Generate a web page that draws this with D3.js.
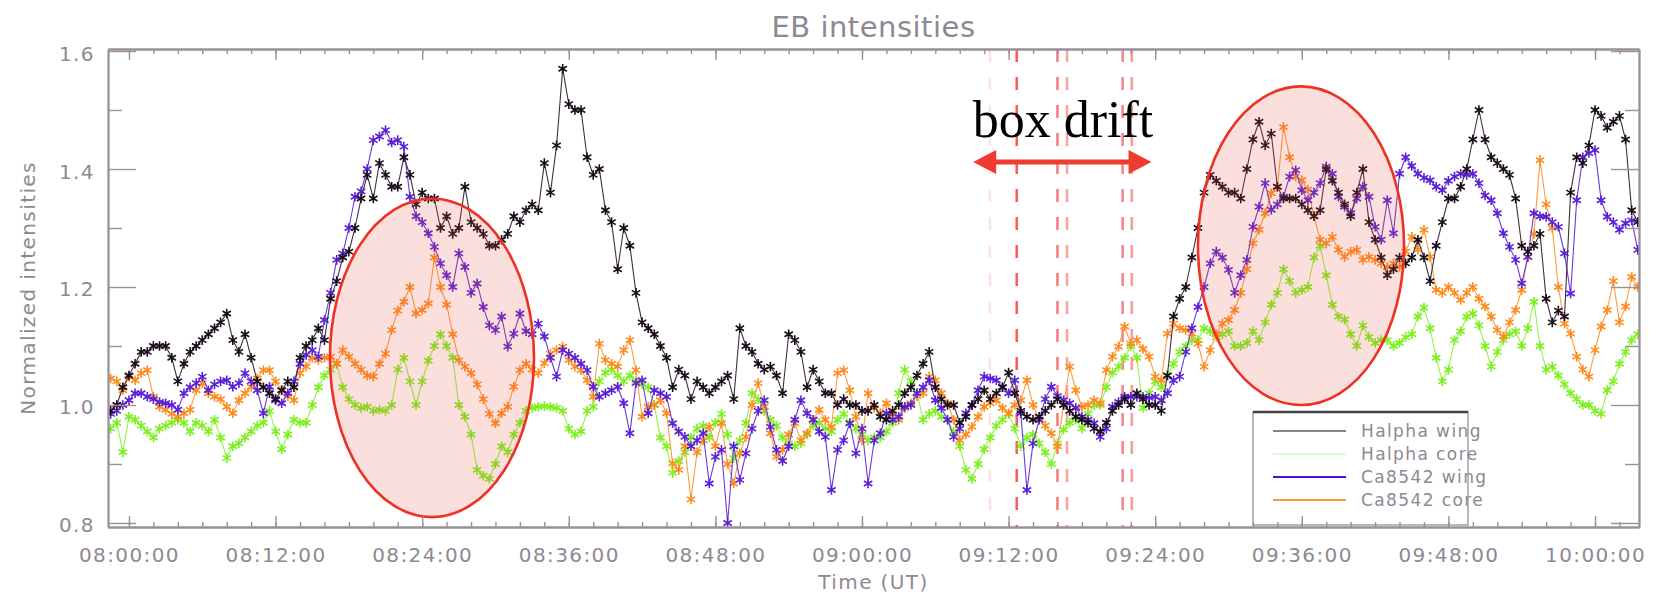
<!DOCTYPE html>
<meta charset="utf-8">

<style>
body { margin: 0; background: #fff; }
svg  { display: block; }
.lbl, .tick text { font-family: "DejaVu Sans", sans-serif; fill: #8e8894; }
</style>

<head>
<script src="https://cdn.jsdelivr.net/npm/d3@7"></script>
</head>

<body>
<div id="chart"></div>

<script>
// samples every 30 s, first one at 07:58:30 UT
var startTime = "07:58:30";
var stepSec = 30;

var haWing = [
 0.99,1.00,1.03,1.05,1.07,1.09,1.09,1.10,1.10,1.10,
 1.08,1.04,1.07,1.09,1.10,1.11,1.12,1.13,1.14,1.155,
 1.11,1.09,1.12,1.08,1.04,1.03,1.02,1.01,1.025,1.04,
 1.03,1.08,1.10,1.11,1.13,1.11,1.18,1.21,1.25,1.26,
 1.30,1.35,1.39,1.35,1.41,1.39,1.37,1.37,1.42,1.39,
 1.34,1.36,1.35,1.35,1.30,1.32,1.29,1.30,1.37,1.31,
 1.30,1.29,1.27,1.27,1.28,1.29,1.32,1.31,1.33,1.34,
 1.33,1.41,1.36,1.44,1.57,1.51,1.50,1.50,1.42,1.39,
 1.40,1.33,1.31,1.23,1.30,1.27,1.19,1.14,1.13,1.12,
 1.10,1.08,1.03,1.06,1.05,1.01,1.04,1.03,1.02,1.03,
 1.04,1.05,1.01,1.13,1.10,1.09,1.07,1.06,1.065,1.05,
 1.02,1.12,1.11,1.09,1.03,1.06,1.04,1.02,1.02,1.00,
 1.01,1.00,1.00,0.99,0.99,1.00,0.98,0.975,0.99,1.00,
 1.02,1.03,1.05,1.07,1.09,1.03,1.01,1.00,1.00,0.97,
 0.98,1.00,1.01,1.025,1.01,1.02,1.03,1.055,1.02,0.99,
 0.98,0.975,0.98,0.99,1.00,1.01,1.00,0.99,0.98,0.975,
 0.97,0.96,0.955,0.97,0.99,1.00,1.01,1.00,1.02,1.01,
 1.00,1.00,0.99,1.05,1.15,1.18,1.20,1.25,1.30,1.36,
 1.39,1.38,1.37,1.36,1.36,1.35,1.40,1.45,1.48,1.44,
 1.46,1.37,1.35,1.35,1.35,1.34,1.33,1.32,1.33,1.40,
 1.38,1.36,1.34,1.32,1.36,1.40,1.31,1.28,1.25,1.22,
 1.23,1.25,1.24,1.25,1.28,1.25,1.21,1.27,1.31,1.35,
 1.35,1.37,1.40,1.45,1.50,1.45,1.42,1.41,1.40,1.39,
 1.35,1.27,1.26,1.27,1.29,1.18,1.14,1.16,1.15,1.36,
 1.42,1.41,1.44,1.50,1.49,1.47,1.48,1.49,1.45,1.33,
 1.31];

var haCore = [
 0.96,0.97,0.92,0.98,0.975,0.965,0.955,0.945,0.96,0.965,
 0.97,0.975,0.97,0.955,0.97,0.965,0.955,0.975,0.945,0.91,
 0.93,0.935,0.945,0.955,0.965,0.97,0.99,0.955,0.925,0.95,
 0.975,0.97,0.97,1.00,1.03,1.05,1.06,1.07,1.03,1.01,
 1.00,0.995,0.997,0.99,0.992,0.99,1.00,1.06,1.08,1.04,
 1.00,1.04,1.075,1.10,1.12,1.10,1.08,1.00,0.98,0.95,
 0.89,0.88,0.875,0.90,0.93,0.92,0.95,0.97,0.99,0.995,
 0.997,0.998,0.997,0.995,0.99,0.96,0.95,0.955,0.99,0.997,
 1.04,1.055,1.06,1.05,1.04,1.05,1.04,1.035,1.03,1.00,
 0.945,0.93,0.885,0.905,0.92,0.945,0.96,0.965,0.945,0.97,
 0.985,0.95,0.91,0.94,0.97,1.02,1.01,0.99,0.975,0.965,
 0.945,0.935,0.93,0.935,0.95,0.965,0.97,0.96,0.955,0.975,
 0.985,0.97,0.96,0.95,0.94,0.945,0.945,0.955,0.97,1.02,
 1.06,1.04,1.02,0.975,0.985,0.99,0.98,0.975,0.955,0.93,
 0.89,0.875,0.90,0.925,0.945,0.965,0.975,0.985,0.96,0.93,
 0.945,0.95,0.935,0.92,0.90,0.935,0.958,0.97,0.975,0.96,
 0.985,1.00,1.00,1.03,1.055,1.065,1.08,1.10,1.08,0.995,
 1.02,1.04,1.03,1.05,1.07,1.09,1.10,1.11,1.11,1.13,
 1.125,1.115,1.12,1.125,1.10,1.10,1.105,1.125,1.11,1.14,
 1.17,1.19,1.23,1.21,1.19,1.195,1.20,1.25,1.27,1.22,
 1.17,1.15,1.145,1.12,1.10,1.135,1.115,1.105,1.11,1.11,
 1.10,1.105,1.115,1.12,1.15,1.165,1.13,1.08,1.04,1.06,
 1.11,1.125,1.15,1.155,1.135,1.10,1.065,1.09,1.11,1.12,
 1.125,1.10,1.13,1.175,1.10,1.06,1.065,1.05,1.035,1.02,
 1.01,1.00,1.00,0.99,0.985,1.025,1.04,1.07,1.09,1.11,
 1.12];

var caWing = [
 0.985,0.99,1.00,1.008,1.02,1.02,1.014,1.01,1.005,1.003,
 1.00,0.992,1.02,1.03,1.037,1.048,1.025,1.035,1.04,1.042,
 1.031,1.037,1.054,1.04,1.025,0.986,1.031,1.008,1.003,1.02,
 1.04,1.07,1.085,1.093,1.082,1.144,1.19,1.246,1.257,1.30,
 1.353,1.362,1.40,1.449,1.455,1.466,1.445,1.449,1.438,1.353,
 1.32,1.31,1.291,1.268,1.24,1.22,1.20,1.257,1.234,1.19,
 1.206,1.166,1.135,1.127,1.15,1.099,1.121,1.155,1.125,1.12,
 1.138,1.116,1.08,1.048,1.093,1.087,1.08,1.07,1.059,1.031,
 1.014,1.02,1.025,1.031,1.003,0.952,1.037,1.042,0.986,1.025,
 1.02,1.014,0.969,0.955,0.946,0.93,0.94,0.952,0.867,0.912,
 0.924,0.80,0.93,0.873,0.918,0.96,0.99,1.008,0.963,0.924,
 0.905,0.93,0.975,1.008,0.986,0.975,0.955,0.946,0.856,0.924,
 0.94,0.969,0.918,0.96,0.867,0.94,0.952,0.986,0.975,0.98,
 0.997,1.00,1.02,1.03,1.042,1.008,0.995,0.975,0.946,0.96,
 0.986,1.00,1.025,1.048,1.045,1.042,1.03,1.02,1.042,0.986,
 0.856,0.935,0.975,1.01,1.031,1.015,1.008,1.003,0.995,0.98,
 0.975,0.969,0.946,0.96,0.997,1.005,1.014,1.014,1.014,1.014,
 1.012,1.014,1.008,1.02,1.042,1.048,1.09,1.13,1.166,1.20,
 1.24,1.26,1.25,1.229,1.19,1.22,1.246,1.302,1.336,1.376,
 1.331,1.34,1.353,1.387,1.398,1.364,1.347,1.36,1.376,1.404,
 1.392,1.353,1.336,1.325,1.35,1.37,1.353,1.302,1.28,1.347,
 1.291,1.392,1.42,1.405,1.392,1.385,1.381,1.37,1.364,1.38,
 1.387,1.392,1.39,1.392,1.376,1.355,1.347,1.325,1.291,1.268,
 1.246,1.206,1.251,1.325,1.32,1.319,1.31,1.302,1.257,1.189,
 1.347,1.42,1.427,1.432,1.347,1.319,1.31,1.297,1.308,1.313,
 1.263];

var caCore = [
 1.045,1.04,1.025,1.048,1.042,1.054,1.059,1.014,0.997,0.992,
 0.985,0.98,0.986,0.992,1.025,1.037,1.02,1.014,1.01,0.997,
 0.986,1.008,1.02,1.031,1.045,1.059,1.059,1.04,1.025,1.015,
 1.008,1.054,1.065,1.08,1.076,1.08,1.082,1.07,1.093,1.082,
 1.07,1.06,1.05,1.048,1.07,1.087,1.127,1.16,1.175,1.20,
 1.155,1.161,1.172,1.25,1.20,1.17,1.12,1.076,1.065,1.054,
 1.035,1.01,0.985,0.969,0.986,0.997,1.031,1.059,1.07,1.06,
 1.054,1.071,1.087,1.093,1.099,1.076,1.065,1.059,1.042,1.014,
 1.104,1.076,1.07,1.065,1.093,1.11,1.059,0.98,0.997,1.00,
 1.008,0.986,0.901,0.89,0.93,0.84,0.92,0.94,0.963,0.93,
 0.969,0.90,0.867,0.918,0.946,1.00,1.037,0.997,0.952,0.912,
 0.924,0.95,0.969,0.94,0.952,0.975,0.992,0.975,0.963,1.054,
 1.059,1.025,0.98,0.94,1.02,0.995,0.986,1.003,0.985,0.975,
 0.995,1.003,1.015,1.02,1.048,1.042,1.02,1.003,0.975,0.94,
 0.95,0.963,0.98,0.997,1.003,1.008,0.995,0.986,1.00,1.008,
 1.042,1.00,0.975,0.965,0.952,0.93,1.00,1.065,1.025,0.997,
 1.00,1.008,1.003,1.059,1.082,1.099,1.133,1.104,1.11,1.095,
 1.082,1.048,1.042,1.121,1.138,1.13,1.127,1.121,1.104,1.065,
 1.093,1.12,1.138,1.144,1.161,1.19,1.23,1.274,1.297,1.325,
 1.359,1.37,1.471,1.42,1.387,1.381,1.365,1.32,1.28,1.274,
 1.285,1.263,1.251,1.26,1.263,1.246,1.251,1.246,1.24,1.234,
 1.24,1.234,1.26,1.285,1.263,1.297,1.251,1.195,1.19,1.20,
 1.19,1.178,1.19,1.20,1.18,1.167,1.15,1.127,1.116,1.14,
 1.161,1.195,1.251,1.29,1.415,1.34,1.30,1.20,1.138,1.121,
 1.082,1.06,1.048,1.093,1.133,1.161,1.21,1.14,1.167,1.217,
 1.20];

var seriesNames  = ["Halpha wing", "Halpha core", "Ca8542 wing", "Ca8542 core"];
var markColors   = ["#1a0c1a", "#7cf01c", "#5c20d4", "#ff8a1c"];
var lineColors   = ["#3e303e", "#92f545", "#6c38dc", "#ff9c40"];
var legendColors = ["#8c8089", "#d6ffcc", "#4a10d8", "#ff9a33"];

var xStart = "07:58:17", xEnd = "10:03:36";
var xTickLabels = ["08:00:00","08:12:00","08:24:00","08:36:00","08:48:00","09:00:00",
                   "09:12:00","09:24:00","09:36:00","09:48:00","10:00:00"];
var yTicks = [0.8, 1.0, 1.2, 1.4, 1.6];
var yMinor = [0.9, 1.1, 1.3, 1.5];
var yMin = 0.7932, yMax = 1.6034;

// box drift markers (dashed red lines)
var driftTimes   = ["09:10:28","09:12:40","09:16:00","09:16:47","09:21:20","09:22:05"];
var driftOpacity = [0.13, 0.8, 0.65, 0.45, 0.6, 0.5];

// highlighted regions: centre time, centre value, half width (s), half height
var ovals = [
  {t: "08:24:48", v: 1.080, dt: 501, dv: 0.270},
  {t: "09:35:56", v: 1.270, dt: 506, dv: 0.270}
];
var arrowFrom = "09:09:06", arrowTo = "09:23:42", arrowVal = 1.412;
var driftLabel = "box drift", driftLabelTime = "09:16:27", driftLabelVal = 1.454;
</script>

<script>
var W = 1668, H = 595;
var L = 108, R = 1639, T = 49, B = 527;
var parseT = d3.utcParse("%H:%M:%S");
var t0 = parseT(startTime);

var x = d3.scaleUtc().domain([parseT(xStart), parseT(xEnd)]).range([L, R]);
var y = d3.scaleLinear().domain([yMin, yMax]).range([B, T]);

var svg = d3.select("#chart").append("svg")
    .attr("width", W).attr("height", H);

svg.append("defs").append("clipPath").attr("id", "plotclip")
  .append("rect").attr("x", L).attr("y", T).attr("width", R - L).attr("height", B - T);

function toPoints(vals) {
  return vals.map(function(v, i) { return {t: new Date(+t0 + i * stepSec * 1000), v: v}; });
}
var allSeries = [haWing, haCore, caWing, caCore].map(toPoints);

var plot = svg.append("g").attr("clip-path", "url(#plotclip)");

// dashed drift lines
plot.selectAll("line.drift").data(driftTimes).enter().append("line")
  .attr("class", "drift")
  .attr("x1", function(d) { return x(parseT(d)); })
  .attr("x2", function(d) { return x(parseT(d)); })
  .attr("y1", y(yMax)).attr("y2", y(yMin))
  .attr("stroke", "#f03a3a").attr("stroke-width", 2.6)
  .attr("stroke-dasharray", "13,15")
  .attr("opacity", function(d, i) { return driftOpacity[i]; });

var line = d3.line().x(function(d) { return x(d.t); }).y(function(d) { return y(d.v); });

// asterisk symbol
var star = "M0,-4.8L0,4.8M-4.2,-2.5L4.2,2.5M-4.2,2.5L4.2,-2.5";

[1, 3, 2, 0].forEach(function(k) {
  var g = plot.append("g");
  g.append("path").datum(allSeries[k])
    .attr("d", line).attr("fill", "none")
    .attr("stroke", lineColors[k]).attr("stroke-width", 1.1);
  g.selectAll("path.pt").data(allSeries[k]).enter().append("path")
    .attr("class", "pt")
    .attr("transform", function(d) { return "translate(" + x(d.t) + "," + y(d.v) + ")"; })
    .attr("d", star).attr("fill", "none")
    .attr("stroke", markColors[k]).attr("stroke-width", 1.6);
});

// highlighted ellipses
svg.selectAll("ellipse").data(ovals).enter().append("ellipse")
  .attr("cx", function(d) { return x(parseT(d.t)); })
  .attr("cy", function(d) { return y(d.v); })
  .attr("rx", function(d) { var c = parseT(d.t); return x(new Date(+c + d.dt * 1000)) - x(c); })
  .attr("ry", function(d) { return y(d.v - d.dv) - y(d.v); })
  .attr("fill", "rgb(235,80,60)").attr("fill-opacity", 0.18)
  .attr("stroke", "#ee3124").attr("stroke-width", 2.6);

// box drift arrow + label
var ax1 = x(parseT(arrowFrom)), ax2 = x(parseT(arrowTo)), ay = y(arrowVal);
svg.append("line").attr("x1", ax1 + 20).attr("x2", ax2 - 20).attr("y1", ay).attr("y2", ay)
  .attr("stroke", "#f03c30").attr("stroke-width", 5);
svg.append("path")
  .attr("d", "M" + ax1 + "," + ay + "L" + (ax1 + 23) + "," + (ay - 12) + "L" + (ax1 + 23) + "," + (ay + 12) + "Z" +
             "M" + ax2 + "," + ay + "L" + (ax2 - 23) + "," + (ay - 12) + "L" + (ax2 - 23) + "," + (ay + 12) + "Z")
  .attr("fill", "#f03c30");
svg.append("text")
  .attr("x", x(parseT(driftLabelTime))).attr("y", y(driftLabelVal))
  .attr("text-anchor", "middle")
  .style("font-family", "'Liberation Serif', serif").style("font-size", "52px")
  .attr("fill", "#000").text(driftLabel);

// legend
var lg = svg.append("g");
lg.append("rect").attr("x", 1253).attr("y", 412).attr("width", 215).attr("height", 113)
  .attr("fill", "#fff").attr("stroke", "#8a8a8a").attr("stroke-width", 1.2);
lg.append("line").attr("x1", 1253).attr("x2", 1468).attr("y1", 412).attr("y2", 412)
  .attr("stroke", "#444").attr("stroke-width", 2.4);
var rows = lg.selectAll("g.row").data(seriesNames).enter().append("g")
  .attr("transform", function(d, i) { return "translate(0," + (431 + i * 23) + ")"; });
rows.append("line").attr("x1", 1273).attr("x2", 1346)
  .attr("stroke", function(d, i) { return legendColors[i]; }).attr("stroke-width", 2.2);
rows.append("text").attr("class", "lbl").attr("x", 1361).attr("y", 6)
  .style("font-size", "17px").style("letter-spacing", "1.4px").text(function(d) { return d; });

// axes
var axisColor = "#9a8f9a";
function styleAxis(g) {
  g.select(".domain").attr("stroke", axisColor).attr("stroke-width", 1.8);
  g.selectAll(".tick line").attr("stroke", axisColor).attr("stroke-width", 1.4);
  g.selectAll(".tick text").style("font-size", "20px").style("letter-spacing", "1.4px");
}
var minorX = d3.utcMinute.every(2);
var majorX = xTickLabels.map(parseT);

svg.append("g").attr("transform", "translate(0," + B + ")")
  .call(d3.axisBottom(x).ticks(minorX).tickSize(-5).tickSizeOuter(0).tickFormat(""))
  .call(styleAxis);
svg.append("g").attr("transform", "translate(0," + B + ")")
  .call(d3.axisBottom(x).tickValues(majorX).tickSize(-11).tickSizeOuter(0)
        .tickPadding(21).tickFormat(d3.utcFormat("%H:%M:%S")))
  .call(styleAxis);
svg.append("g").attr("transform", "translate(0," + T + ")")
  .call(d3.axisTop(x).ticks(minorX).tickSize(-5).tickSizeOuter(0).tickFormat(""))
  .call(styleAxis);
svg.append("g").attr("transform", "translate(0," + T + ")")
  .call(d3.axisTop(x).tickValues(majorX).tickSize(-11).tickSizeOuter(0).tickFormat(""))
  .call(styleAxis);

svg.append("g").attr("transform", "translate(" + L + ",0)")
  .call(d3.axisLeft(y).tickValues(yMinor).tickSize(-14).tickSizeOuter(0).tickFormat(""))
  .call(styleAxis);
svg.append("g").attr("transform", "translate(" + L + ",0)")
  .call(d3.axisLeft(y).tickValues(yTicks).tickSize(-28).tickSizeOuter(0)
        .tickPadding(13).tickFormat(d3.format(".1f")))
  .call(styleAxis)
  .selectAll(".tick text").attr("dy", "0.45em");
svg.append("g").attr("transform", "translate(" + R + ",0)")
  .call(d3.axisRight(y).tickValues(yMinor).tickSize(-14).tickSizeOuter(0).tickFormat(""))
  .call(styleAxis);
svg.append("g").attr("transform", "translate(" + R + ",0)")
  .call(d3.axisRight(y).tickValues(yTicks).tickSize(-28).tickSizeOuter(0).tickFormat(""))
  .call(styleAxis);

// titles
svg.append("text").attr("class", "lbl").attr("x", (L + R) / 2).attr("y", 37)
  .attr("text-anchor", "middle").style("font-size", "29px").style("letter-spacing", "0.5px")
  .text("EB intensities");
svg.append("text").attr("class", "lbl").attr("x", (L + R) / 2).attr("y", 589)
  .attr("text-anchor", "middle").style("font-size", "20px").style("letter-spacing", "1.4px")
  .text("Time (UT)");
svg.append("text").attr("class", "lbl")
  .attr("transform", "translate(35," + (T + B) / 2 + ") rotate(-90)")
  .attr("text-anchor", "middle").style("font-size", "20px").style("letter-spacing", "1.4px")
  .text("Normalized intensities");
</script>
</body>
